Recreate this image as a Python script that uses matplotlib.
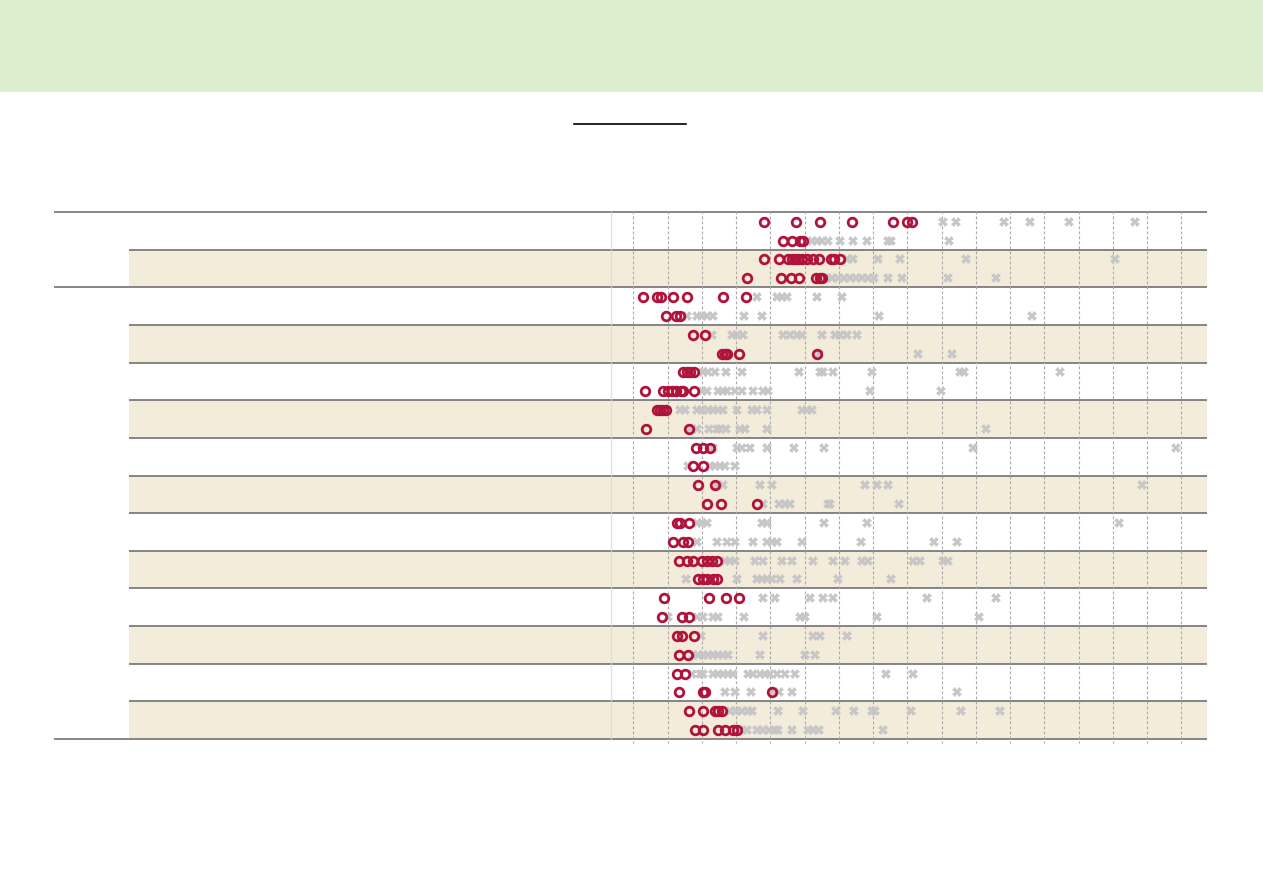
import matplotlib
matplotlib.use('Agg')
from matplotlib import pyplot as plt

W, H = 1263, 893

GREEN = '#dbeecd'
BEIGE = '#f3ecdb'
RULE = '#666666'
RED = '#b0123a'
GREY = '#c6c6c6'
GRID = '#a8a8a8'

# 14 rows, each with an upper line (a) and a lower line (b)
circles_a = [
    [4.83, 5.75, 6.46, 7.40, 8.59, 9.00, 9.14],
    [4.82, 5.26, 5.51, 5.63, 5.72, 5.82, 5.92, 6.08, 6.26, 6.43, 6.77, 6.87, 7.04],
    [1.29, 1.68, 1.80, 2.15, 2.56, 3.63, 4.29],
    [2.75, 3.10],
    [2.46, 2.56, 2.66, 2.77],
    [1.69, 1.78, 1.87, 1.96],
    [2.82, 3.03, 3.24],
    [2.89, 3.39],
    [2.29, 2.36, 2.63],
    [2.34, 2.58, 2.74, 3.00, 3.14, 3.29, 3.45],
    [1.90, 3.22, 3.71, 4.10],
    [2.27, 2.41, 2.77],
    [2.27, 2.51],
    [2.63, 3.03, 3.39, 3.48, 3.58],
]
circles_b = [
    [5.38, 5.64, 5.87, 5.95],
    [4.32, 5.31, 5.61, 5.84, 6.34, 6.45, 6.51],
    [1.96, 2.24, 2.36],
    [3.58, 3.68, 3.75, 4.09, 6.36],
    [1.34, 1.88, 2.01, 2.12, 2.25, 2.39, 2.44, 2.77],
    [1.36, 2.63],
    [2.75, 3.05],
    [3.16, 3.56, 4.62],
    [2.15, 2.46, 2.59],
    [2.90, 3.05, 3.16, 3.34, 3.45],
    [1.83, 2.41, 2.63],
    [2.34, 2.59],
    [2.34, 3.05, 3.10, 5.04],
    [2.80, 3.05, 3.47, 3.68, 3.92, 4.04],
]
crosses_a = [
    [10.05, 10.42, 11.83, 12.59, 13.71, 15.66],
    [7.24, 7.42, 8.15, 8.79, 10.72, 15.06],
    [4.62, 5.19, 5.33, 5.48, 6.37, 7.09],
    [3.29, 3.87, 4.02, 4.21, 5.38, 5.58, 5.77, 5.92, 6.50, 6.89, 7.04, 7.23, 7.52],
    [3.05, 3.19, 3.39, 3.71, 4.17, 5.84, 6.45, 6.55, 6.84, 7.98, 10.54, 10.66, 13.46],
    [2.36, 2.51, 2.85, 3.00, 3.19, 3.34, 3.48, 3.63, 4.02, 4.46, 4.60, 4.90, 5.92, 6.06, 6.21],
    [3.34, 4.02, 4.17, 4.41, 4.90, 5.69, 6.57, 10.91, 16.85],
    [3.44, 3.63, 4.70, 5.04, 7.77, 8.11, 8.43, 15.85],
    [2.85, 3.00, 3.14, 4.75, 4.90, 6.57, 7.83, 15.18],
    [3.68, 3.82, 3.97, 4.55, 4.80, 5.33, 5.63, 6.24, 6.84, 7.18, 7.67, 7.86, 9.18, 9.37, 10.05, 10.20],
    [4.78, 5.14, 6.16, 6.55, 6.84, 9.59, 11.58],
    [2.98, 4.78, 6.26, 6.45, 7.23],
    [2.71, 2.95, 3.05, 3.34, 3.48, 3.63, 3.78, 3.92, 4.36, 4.51, 4.70, 4.85, 4.99, 5.19, 5.43, 5.72, 8.37, 9.18],
    [3.82, 4.00, 4.18, 4.35, 4.47, 5.24, 5.95, 6.92, 7.45, 7.96, 8.06, 9.11, 10.57, 11.71],
]
crosses_b = [
    [6.21, 6.36, 6.50, 6.70, 7.04, 7.42, 7.83, 8.45, 8.52, 10.23],
    [6.63, 6.80, 6.98, 7.15, 7.33, 7.50, 7.68, 7.85, 8.03, 8.45, 8.85, 10.19, 11.59],
    [2.56, 2.85, 3.00, 3.14, 3.34, 4.23, 4.77, 8.18, 12.65],
    [6.42, 9.31, 10.32],
    [3.00, 3.14, 3.48, 3.63, 3.73, 3.97, 4.17, 4.51, 4.80, 4.94, 7.91, 9.98],
    [2.66, 2.87, 3.22, 3.44, 3.53, 3.71, 4.12, 4.26, 4.90, 11.31],
    [2.61, 3.24, 3.39, 3.53, 3.68, 3.97],
    [4.80, 5.26, 5.43, 5.58, 6.70, 6.74, 8.77],
    [2.85, 3.44, 3.73, 3.97, 4.51, 4.90, 5.04, 5.19, 5.92, 7.64, 9.78, 10.44],
    [2.54, 4.02, 4.60, 4.75, 4.90, 5.04, 5.28, 5.77, 6.99, 8.52],
    [2.02, 2.85, 3.05, 3.34, 3.48, 4.23, 5.87, 6.01, 8.11, 11.10],
    [2.75, 2.89, 3.04, 3.18, 3.33, 3.47, 3.62, 3.77, 4.70, 6.01, 6.31],
    [3.69, 3.97, 4.44, 5.09, 5.26, 5.63, 10.44],
    [4.12, 4.31, 4.60, 4.79, 4.96, 5.14, 5.24, 5.63, 6.11, 6.25, 6.43, 8.30],
]
grid_ticks = list(range(1, 18))

# table layout (pixels)
TOP, BOTTOM = 212, 739
LEFT, INNER, PLOT_L, RIGHT = 54, 128.5, 611, 1207.3
N_ROWS = len(circles_a)
ROW_H = (BOTTOM - TOP) / N_ROWS
GROUP_BREAKS = (0, 2, N_ROWS)

fig = plt.figure(figsize=(W / 100, H / 100), dpi=100)

# background layer: header band, row shading, rules
bg = fig.add_axes([0, 0, 1, 1])
bg.set_xlim(0, W)
bg.set_ylim(H, 0)
bg.axis('off')
bg.axhspan(0, 92, color=GREEN, lw=0)
bg.plot([574, 686], [123.5, 123.5], color='black', lw=1.2)

for r in range(N_ROWS):
    if r % 2 == 1:
        y0 = TOP + r * ROW_H
        bg.fill_between([INNER, RIGHT], y0, y0 + ROW_H, color=BEIGE, lw=0)

for r in range(N_ROWS + 1):
    y = TOP + r * ROW_H
    x0 = LEFT if r in GROUP_BREAKS else INNER
    bg.plot([x0, RIGHT], [y, y], color=RULE, lw=1.1, solid_capstyle='butt')

# dot plot
ax = fig.add_axes([PLOT_L / W, 1 - BOTTOM / H, (RIGHT - PLOT_L) / W, (BOTTOM - TOP) / H])
ax.patch.set_alpha(0)
ax.set_xlim(0.35, 17.76)
ax.set_ylim(N_ROWS, 0)
for s in ['top', 'right', 'bottom']:
    ax.spines[s].set_visible(False)
ax.spines['left'].set_color('#d8d8d8')
ax.spines['left'].set_alpha(0.7)
ax.spines['left'].set_linewidth(1.0)
ax.set_xticks([])
ax.set_yticks([])

ax.vlines(grid_ticks, -0.02, N_ROWS + 0.1, color=GRID, lw=0.8,
          linestyles=(0, (2.5, 2)), zorder=1, clip_on=False)

for r in range(N_ROWS):
    ya, yb = r + 0.26, r + 0.76
    ax.plot(crosses_a[r], [ya] * len(crosses_a[r]), 'X', ms=6.6, color=GREY, mew=0, zorder=2)
    ax.plot(crosses_b[r], [yb] * len(crosses_b[r]), 'X', ms=6.6, color=GREY, mew=0, zorder=2)
    ax.plot(circles_a[r], [ya] * len(circles_a[r]), 'o', ms=6.2, mfc='none', mec=RED, mew=2.0, zorder=3)
    ax.plot(circles_b[r], [yb] * len(circles_b[r]), 'o', ms=6.2, mfc='none', mec=RED, mew=2.0, zorder=3)

fig.savefig('out.png', dpi=100)
